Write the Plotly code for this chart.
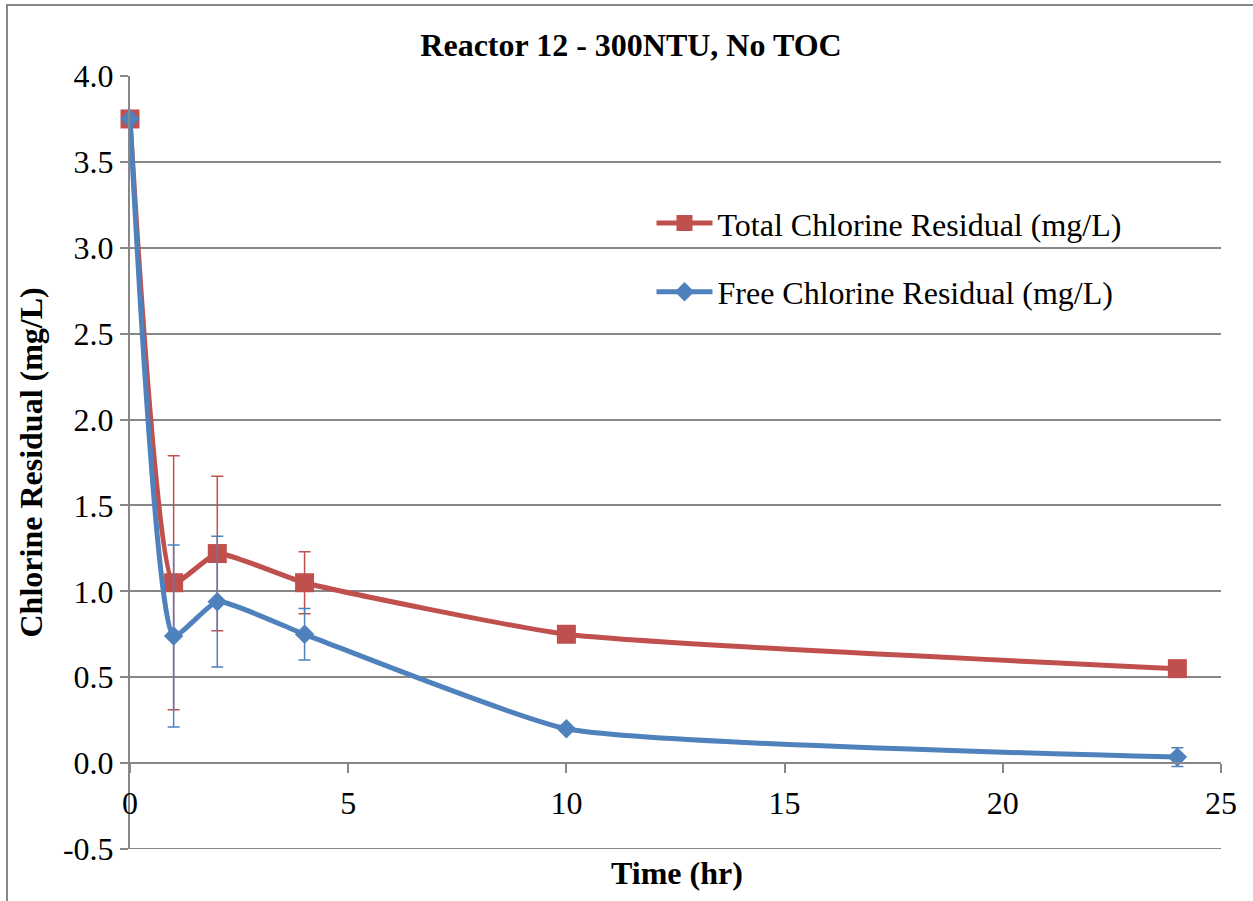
import plotly.graph_objects as go

time_hr = [0, 1, 2, 4, 10, 24]
total_cl = [3.75, 1.05, 1.22, 1.05, 0.75, 0.55]
total_err = [None, 0.74, 0.45, 0.18, None, None]
free_cl = [3.75, 0.74, 0.94, 0.75, 0.20, 0.035]
free_err = [None, 0.53, 0.38, 0.15, None, 0.055]

y_tick_vals = [-0.5, 0.0, 0.5, 1.0, 1.5, 2.0, 2.5, 3.0, 3.5, 4.0]
y_tick_text = ["-0.5", "0.0", "0.5", "1.0", "1.5", "2.0", "2.5", "3.0", "3.5", "4.0"]

RED = "#C0504D"
BLUE = "#4F81BD"
GRID = "#878787"
FONT = "Liberation Serif, Times New Roman, serif"

fig = go.Figure()
fig.add_trace(go.Scatter(
    x=time_hr, y=total_cl, mode="lines+markers",
    name="Total Chlorine Residual (mg/L)", legendgroup="a",
    line=dict(color=RED, width=5, shape="spline", smoothing=0.45),
    marker=dict(symbol="square", size=19, color=RED),
    error_y=dict(type="data", array=total_err, symmetric=True,
                 color=RED, thickness=1.5, width=6),
    cliponaxis=False,
))
fig.add_trace(go.Scatter(
    x=time_hr, y=free_cl, mode="lines+markers",
    name="Free Chlorine Residual (mg/L)", legendgroup="b",
    line=dict(color=BLUE, width=5, shape="spline", smoothing=0.45),
    marker=dict(symbol="diamond", size=15, color=BLUE),
    error_y=dict(type="data", array=free_err, symmetric=True,
                 color=BLUE, thickness=1.5, width=6),
    cliponaxis=False,
))

fig.update_layout(
    width=1253, height=901,
    margin=dict(l=130, r=32, t=76, b=52),
    paper_bgcolor="white", plot_bgcolor="white",
    font=dict(family=FONT, size=32, color="black"),
    title=dict(text="<b>Reactor 12 - 300NTU, No TOC</b>",
               x=631 / 1253, xanchor="center", xref="container",
               y=1 - 45 / 901, yanchor="middle", yref="container",
               font=dict(family=FONT, size=32, color="black")),
    showlegend=True,
    legend=dict(x=0.478, y=0.845, xanchor="left", yanchor="top",
                bgcolor="rgba(0,0,0,0)", traceorder="grouped",
                tracegroupgap=24, itemwidth=56,
                font=dict(family=FONT, size=32, color="black")),
    xaxis=dict(range=[0, 25], dtick=5, tick0=0,
               showgrid=False, zeroline=False,
               showline=True, linecolor=GRID, linewidth=2,
               ticks="outside", ticklen=9, tickcolor=GRID, tickwidth=2,
               anchor="free", position=86 / 773,
               ticklabelstandoff=3,
               tickfont=dict(family=FONT, size=32, color="black")),
    yaxis=dict(range=[-0.5, 4.0], tickmode="array",
               tickvals=y_tick_vals, ticktext=y_tick_text,
               showgrid=True, gridcolor=GRID, gridwidth=2,
               zeroline=True, zerolinecolor=GRID, zerolinewidth=2,
               showline=True, linecolor=GRID, linewidth=2,
               ticks="outside", ticklen=8, tickcolor=GRID, tickwidth=2,
               tickfont=dict(family=FONT, size=32, color="black")),
)

# bottom gridline at the lower range edge (Plotly omits it)
fig.add_shape(type="line", xref="paper", yref="y", x0=0, x1=1,
              y0=y_tick_vals[0], y1=y_tick_vals[0],
              line=dict(color=GRID, width=2), layer="below")

fig.add_annotation(text="<b>Time (hr)</b>", xref="paper", yref="paper",
                   x=(677 - 130) / 1091, y=(849 - 873) / 773,
                   xanchor="center", yanchor="middle", showarrow=False,
                   font=dict(family=FONT, size=32, color="black"))
fig.add_annotation(text="<b>Chlorine Residual (mg/L)</b>", xref="paper", yref="paper",
                   x=(30 - 130) / 1091, y=0.5, textangle=-90,
                   xanchor="center", yanchor="middle", showarrow=False,
                   font=dict(family=FONT, size=32, color="black"))

fig.add_shape(type="rect", xref="paper", yref="paper",
              x0=(7 - 130) / 1091, x1=(1300 - 130) / 1091,
              y0=(849 - 960) / 773, y1=(849 - 5) / 773,
              line=dict(color=GRID, width=2), layer="below")

fig.write_html("out.html")
